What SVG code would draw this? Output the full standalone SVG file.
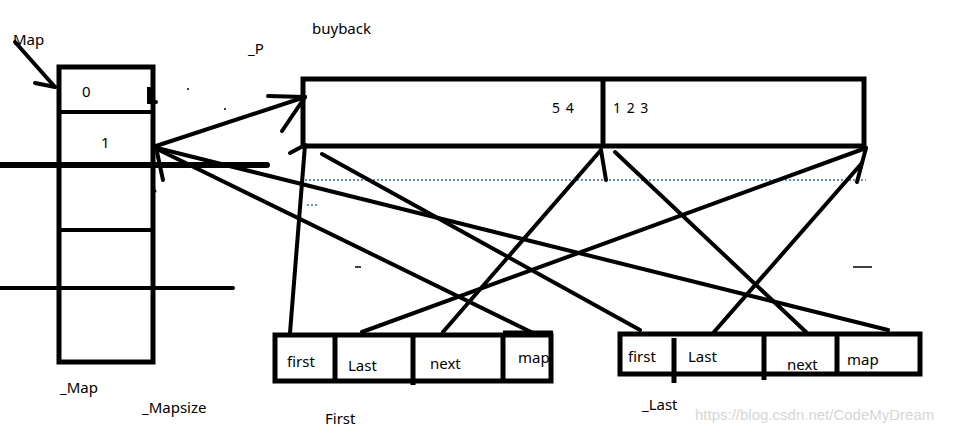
<svg xmlns="http://www.w3.org/2000/svg" width="957" height="433" viewBox="0 0 957 433">
<style>
.t{font-family:"Microsoft YaHei","Noto Sans","Liberation Sans",sans-serif;font-size:15px;fill:#000}
.s{font-size:14px;letter-spacing:1px}
.b{fill:none;stroke:#000;stroke-width:5}
.l{fill:none;stroke:#000;stroke-width:4;stroke-linecap:round}
.d{fill:none;stroke:#2f6fa8;stroke-width:1.5;stroke-dasharray:2 2}
.w{font-family:"Liberation Sans",Arial,sans-serif;font-size:15px;fill:#d6d6d6}
</style>
<rect width="957" height="433" fill="#fff"/>

<g id="map-array">
  <rect class="b" x="59" y="67" width="94" height="295"/>
  <line class="l" x1="59" y1="112" x2="153" y2="112"/>
  <line class="l" x1="59" y1="230" x2="153" y2="230"/>
  <line x1="0" y1="165" x2="267" y2="165" stroke="#000" stroke-width="6" stroke-linecap="round"/>
  <line class="l" x1="0" y1="288" x2="233" y2="288"/>
  <path class="l" d="M152,89 L149,89 L149,102 L156,102"/>
  <text class="t" x="82" y="97">0</text>
  <text class="t" x="101" y="148">1</text>
  <text class="t" x="13" y="45">Map</text>
  <text class="t" x="60" y="393">_Map</text>
  <text class="t" x="142" y="413">_Mapsize</text>
</g>

<g id="buyback">
  <rect class="b" x="303" y="79" width="561" height="67"/>
  <line class="b" x1="603" y1="79" x2="603" y2="146"/>
  <text class="t s" x="552" y="113">5 4</text>
  <text class="t s" x="613" y="113">1 2 3</text>
  <text class="t" x="312" y="34">buyback</text>
  <text class="t" x="248" y="54">_P</text>
  <line class="d" x1="305" y1="180" x2="866" y2="180"/>
  <line class="d" x1="307" y1="205" x2="318" y2="205"/>
</g>

<g id="first-node">
  <rect class="b" x="275" y="335" width="276" height="46"/>
  <line class="b" x1="335" y1="335" x2="335" y2="381"/>
  <line class="b" x1="413" y1="335" x2="413" y2="385"/>
  <line class="b" x1="503" y1="333" x2="503" y2="381"/>
  <line class="b" x1="503" y1="333" x2="553" y2="333"/>
  <text class="t" x="287" y="367">first</text>
  <text class="t" x="348" y="371">Last</text>
  <text class="t" x="430" y="369">next</text>
  <text class="t" x="518" y="363">map</text>
  <text class="t" x="325" y="424">First</text>
</g>

<g id="last-node">
  <rect class="b" x="620" y="334" width="300" height="40"/>
  <line class="b" x1="674" y1="338" x2="674" y2="383"/>
  <line class="b" x1="764" y1="335" x2="764" y2="380"/>
  <line class="b" x1="837" y1="334" x2="837" y2="372"/>
  <text class="t" x="628" y="362">first</text>
  <text class="t" x="688" y="362">Last</text>
  <text class="t" x="787" y="370">next</text>
  <text class="t" x="847" y="365">map</text>
  <text class="t" x="642" y="410">_Last</text>
</g>

<g id="connectors">
  <line class="l" x1="15" y1="42" x2="55" y2="87"/>
  <line class="l" x1="35" y1="83" x2="55" y2="87"/>
  <line class="l" x1="153" y1="147" x2="305" y2="97"/>
  <line class="l" x1="268" y1="96" x2="305" y2="97"/>
  <line class="l" x1="282" y1="131" x2="305" y2="97"/>
  <line class="l" x1="153" y1="147" x2="888" y2="330"/>
  <line class="l" x1="153" y1="147" x2="533" y2="333"/>
  <line class="l" x1="157" y1="152" x2="163" y2="180"/>
  <line class="l" x1="322" y1="154" x2="640" y2="330"/>
  <line class="l" x1="290" y1="333" x2="305" y2="145"/>
  <line class="l" x1="290" y1="153" x2="305" y2="145"/>
  <line class="l" x1="362" y1="332" x2="866" y2="148"/>
  <line class="l" x1="866" y1="148" x2="857" y2="182"/>
  <line class="l" x1="443" y1="332" x2="601" y2="150"/>
  <line class="l" x1="601" y1="150" x2="606" y2="180"/>
  <line class="l" x1="615" y1="152" x2="806" y2="332"/>
  <line class="l" x1="714" y1="332" x2="862" y2="163"/>
</g>

<g id="marks">
  <circle cx="188" cy="89" r="1" fill="#000"/>
  <circle cx="225" cy="109" r="1" fill="#000"/>
  <circle cx="155" cy="191" r="1.5" fill="#000"/>
  <line x1="355" y1="267" x2="361" y2="267" stroke="#000" stroke-width="1.5"/>
  <line x1="853" y1="267" x2="872" y2="267" stroke="#000" stroke-width="1.5"/>
</g>

<text class="w" x="695" y="420">https://blog.csdn.net/CodeMyDream</text>
</svg>
